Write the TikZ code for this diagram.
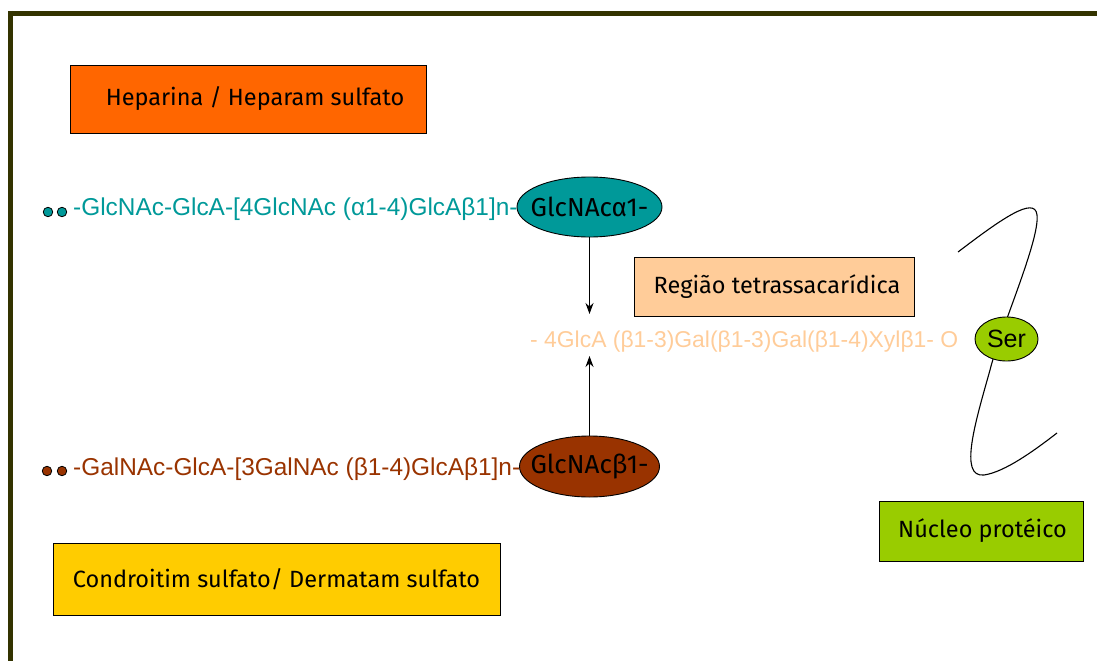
\documentclass[tikz,border=0pt]{standalone}
\usepackage{fontspec}
\setmainfont{Liberation Sans}
\newfontfamily\comic{Fira Sans}
\usetikzlibrary{shapes.geometric,arrows.meta}
\definecolor{frameol}{HTML}{333300}
\definecolor{tealc}{HTML}{009999}
\definecolor{brownc}{HTML}{993300}
\definecolor{peach}{HTML}{FFCC99}
\definecolor{limec}{HTML}{99CC00}
\definecolor{orangec}{HTML}{FF6600}
\definecolor{goldc}{HTML}{FFCC00}
\tikzset{
  labelbox/.style={draw=black, line width=0.9pt, minimum height=#1, inner sep=0pt, font=\comic\fontsize{23.5}{26}\selectfont},
  chain/.style={font=\fontsize{24.4}{28}\selectfont, inner sep=0pt, anchor=base west},
  sugar/.style={ellipse, draw=black, line width=0.9pt, inner sep=0pt},
  sugarlabel/.style={inner sep=0pt, font=\comic\fontsize{26}{28}\selectfont},
  dot/.style={circle, draw=black, line width=0.8pt, minimum size=9.5pt, inner sep=0pt},
  link/.style={draw=black, line width=1.3pt, -{Stealth[length=11pt,width=8pt]}}
}
\begin{document}
\begin{tikzpicture}[x=1pt,y=-1pt]
\useasboundingbox (0,0) rectangle (1097,661);
% frame
\draw[frameol, line width=5pt] (8,13.5) -- (1097,13.5);
\draw[frameol, line width=5pt] (10.5,11) -- (10.5,661);
% boxes
\node[labelbox=68pt, fill=orangec, minimum width=356pt] (hep) at (248,99) {\hspace*{14pt}Heparina / Heparam sulfato};
\node[labelbox=59pt, fill=peach, minimum width=280pt] (reg) at (774,286.5) {\hspace*{6pt}Região tetrassacarídica};
\node[labelbox=60pt, fill=limec, minimum width=204pt] (nuc) at (981,531) {\hspace*{3pt}Núcleo protéico};
\node[labelbox=72pt, fill=goldc, minimum width=447pt] (con) at (276.5,579) {Condroitim sulfato/ Dermatam sulfato};
% top chain
\node[dot, fill=tealc] (d1) at (48,212) {};
\node[dot, fill=tealc] (d2) at (62,212) {};
\node[chain, text=tealc] (hchain) at (73,215) {-GlcNAc-GlcA-[4GlcNAc (α1-4)GlcAβ1]n-};
\node[sugar, fill=tealc, minimum width=145pt, minimum height=60pt] (ga) at (589.5,207) {};
\node[sugarlabel] (gal) at (ga.center) {GlcNAcα1-};
% bottom chain
\node[dot, fill=brownc] (d3) at (47,471) {};
\node[dot, fill=brownc] (d4) at (62,471) {};
\node[chain, text=brownc] (cchain) at (73,475) {-GalNAc-GlcA-[3GalNAc (β1-4)GlcAβ1]n-};
\node[sugar, fill=brownc, minimum width=140pt, minimum height=61pt] (gb) at (589.5,466.5) {};
\node[sugarlabel] (gbl) at (gb.center) {GlcNAcβ1-};
% linkage region
\node[chain, text=peach, font=\fontsize{22.9}{26}\selectfont] (link) at (530,347) {- 4GlcA (β1-3)Gal(β1-3)Gal(β1-4)Xylβ1- O};
\node[coordinate] (ta) at (589.5,314) {};
\node[coordinate] (tb) at (589.5,356) {};
\draw[link] (ga.south) -- (ta);
\draw[link] (gb.north) -- (tb);
% protein core
\draw[black, line width=1.1pt] (958,252) .. controls (1000,220) and (1035,195) .. (1037,215)
  .. controls (1040,240) and (1000,330) .. (990,370)
  .. controls (976,420) and (958,478) .. (984,475)
  .. controls (1005,472) and (1035,450) .. (1057,433);
\node[ellipse, draw=black, line width=0.9pt, fill=limec, minimum width=63pt, minimum height=44pt, inner sep=0pt, font=\fontsize{25}{28}\selectfont] (ser) at (1006.5,339) {Ser};
\end{tikzpicture}
\end{document}
